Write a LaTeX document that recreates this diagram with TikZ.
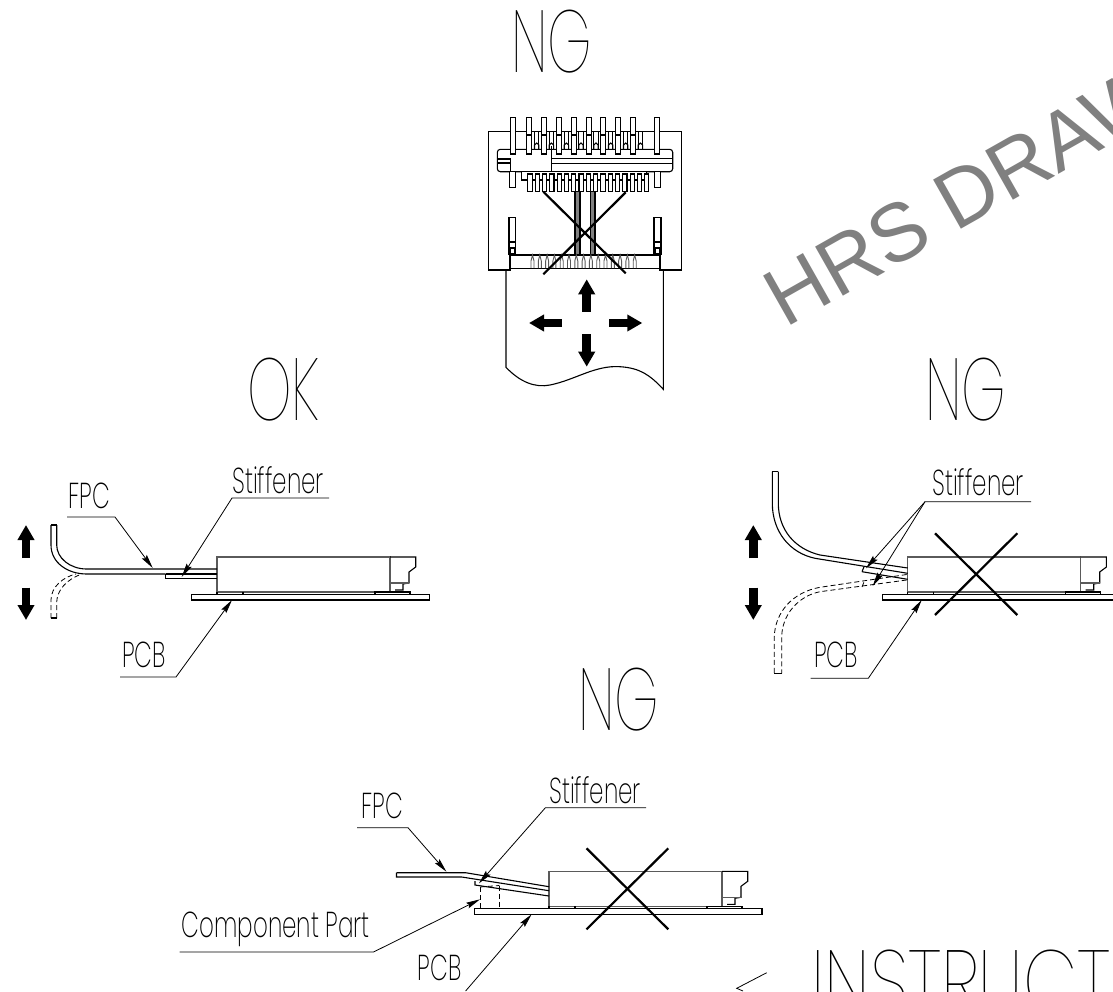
\documentclass[tikz,border=0pt]{standalone}
\usepackage{fontspec}
\setmainfont{Liberation Sans}
\newfontfamily\draftfont{Poppins Thin}
\newfontfamily\draftfontB{Poppins ExtraLight}
\definecolor{waterA}{RGB}{128, 128, 128}
\definecolor{bodyA}{RGB}{90, 90, 90}
\usetikzlibrary{arrows.meta}

\tikzset{
	bigtext/.style={font=\draftfont\fontsize{88}{0}\selectfont, anchor=base west, inner sep=0, xscale=0.64, transform shape},
	widetext/.style={font=\draftfont\fontsize{88}{0}\selectfont, anchor=base west, inner sep=0, xscale=0.80, transform shape},
	smalltext/.style={font=\draftfontB\fontsize{36}{0}\selectfont, anchor=base west, inner sep=0, xscale=0.64, transform shape},
	leader/.style={line width=0.8pt, -{Stealth[length=14pt,width=6pt,inset=2pt]}},
	fatarrow/.style={line width=8.5pt, -{Triangle[length=15pt,width=16pt]}},
	crossline/.style={line width=2.2pt},
	ghost/.style={line width=0.8pt, dash pattern=on 5pt off 3pt},
	sideview/.pic={
		\draw[bodyA] (0,35) -- (0,0) -- (173,0) -- (173,35) -- cycle;
		\draw (173,0) -- (198.7,0) -- (198.7,10) -- (192,15) -- (192,26) -- (186,27) -- (186,33) -- (178,33);
		\draw[bodyA] (173,26) -- (192,26);
		\draw (0,35) -- (0,37.6) -- (26,37.6) -- (26,35);
		\draw (158,37.6) -- (158,35) -- (193,35) -- (193,37.6) -- cycle;
		\draw (26,37.6) -- (158,37.6);
	}
}

\begin{document}
\begin{tikzpicture}[x=1pt, y=-1pt, line width=1.1pt]
\useasboundingbox (0,0) rectangle (1113,991);

%%% WATERMARK
\node[font=\fontsize{82}{0}\selectfont, text=waterA, rotate=29.5, anchor=base west, inner sep=0] (water) at (785,329) {HRS DRAW};

%%% TITLES
\node[bigtext] (titleTop) at (511,72) {NG};
\node[bigtext] (titleOk) at (247,420) {OK};
\node[bigtext] (titleRight) at (925,420) {NG};
\node[bigtext] (titleBottom) at (578,730) {NG};
\node[widetext] (titleInstruct) at (811,1012) {INSTRUCT};

%%% TOP VIEW

\draw (490,131.7) -- (681.7,131.7) -- (681.7,270) -- (660,270) -- (660,255) -- (510,255) -- (510,270) -- (488.3,270) -- (488.3,131.7) -- cycle;
\draw (510,268.3) -- (660,268.3);
\draw (506,270) -- (506,367.3) .. controls (520,382) and (535,388) .. (550,385) .. controls (575,380) and (595,365) .. (620,366.7) .. controls (640,368) and (650,375) .. (663.3,389.3) -- (663.3,270);

% housing
\draw[fill=white, rounded corners=3pt] (497.3,149.3) rectangle (672.7,171.7);
\draw (551.7,158.3) -- (672.7,158.3);
\draw (551.7,163.3) -- (672.7,163.3);
\draw (551.7,146) -- (551.7,171.7);
\draw (497.3,159) -- (510.7,159) -- (510.7,171.7);
\draw (497.3,163) -- (510.7,163);

% upper pins
\foreach \x in {512.7,529.3,544,559,573.7,588.7,603.3,618.3,633,657.3}
	\draw[fill=white] (\x-2.4,154) -- (\x-2.4,117.3) -- (\x+2.4,117.3) -- (\x+2.4,154) -- cycle;
\foreach \x in {529.3,544,559,573.7,588.7,603.3,618.3,633}
	\draw (\x-2.4,135) -- (\x+2.4,135);
\foreach \x in {536.7,551.4,566.4,581,596,610.7,625.7,640.4}
{
	\draw (\x-2.2,149.3) -- (\x-2.2,132);
	\draw (\x+2.2,149.3) -- (\x+2.2,132);
	\draw (\x-2.2,149.3) -- (\x-2.2,145) -- (\x,143) -- (\x+2.2,145) -- (\x+2.2,149.3);
}

% lower pins
\draw[fill=white] (521.7,171.7) -- (521.7,180) -- (646.7,180) -- (646.7,171.7);
\foreach \i in {0,...,16}
{
	\draw[fill=white] (527.9+7.3*\i,174) rectangle (532.1+7.3*\i,191.7);
}
\draw[fill=white] (509.3,171.7) rectangle (515.7,187.7);
\draw[fill=white] (654.4,171.7) rectangle (660.8,187.7);

% locks
\draw (509,255) -- (509,217.3) -- (515.7,217.3) -- (515.7,255);
\draw (654,255) -- (654,217.3) -- (661,217.3) -- (661,255);
\draw (509,242) -- (515.7,242);
\draw (654,242) -- (661,242);
\draw (510,248) rectangle (515,254);
\draw (655,248) rectangle (660,254);

% wires
\draw[fill=waterA] (575,191.7) rectangle (580,255);
\draw[fill=waterA] (590.5,191.7) rectangle (595,255);

% contacts
\foreach \i in {0,...,14}
{
	\draw[bodyA, line width=0.9pt] (531+7.3*\i,268) -- (531+7.3*\i,261) -- (532.5+7.3*\i,255) -- (534+7.3*\i,261) -- (534+7.3*\i,268);
}

\draw[crossline] (543.3,191.7) -- (625.7,273.3);
\draw[crossline] (625.7,192.3) -- (543.3,274.3);

\coordinate (topUpA) at (586.7,311.7);
\coordinate (topUpB) at (586.7,279.3);
\coordinate (topLeftA) at (561.7,323);
\coordinate (topLeftB) at (529,323);
\coordinate (topRightA) at (609.3,323);
\coordinate (topRightB) at (642.3,323);
\coordinate (topDownA) at (586.7,334.3);
\coordinate (topDownB) at (586.7,366.7);
\draw[fatarrow] (topUpA) -- (topUpB);
\draw[fatarrow] (topLeftA) -- (topLeftB);
\draw[fatarrow] (topRightA) -- (topRightB);
\draw[fatarrow] (topDownA) -- (topDownB);

%%% OK VIEW

\pic at (217,557) {sideview};
\draw (191.7,594.3) rectangle (429.3,600);

\draw (51,525) -- (56.7,525);
\draw (56.7,525) -- (56.7,545) .. controls (56.7,558) and (70,569) .. (86.7,569) -- (217,569);
\draw (51,525) -- (51,545) .. controls (51,563) and (68,574) .. (86.7,574) -- (165.7,574);
\draw (165.7,574) -- (217,574);
\draw (165.7,574) -- (165.7,578.3) -- (217,578.3);

\draw[ghost] (51,618) -- (51,600) .. controls (51,587) and (63,577) .. (76,574);
\draw[ghost] (56.7,618) -- (56.7,602) .. controls (57,590) and (67,579) .. (82,574);
\draw (51,618) -- (56.7,618);

\coordinate (okUpA) at (26,558);
\coordinate (okUpB) at (26,525);
\coordinate (okDownA) at (26,587.7);
\coordinate (okDownB) at (26,620);
\draw[fatarrow] (okUpA) -- (okUpB);
\draw[fatarrow] (okDownA) -- (okDownB);

\node[smalltext] (fpcA) at (68,508) {FPC};
\coordinate (fpcAa) at (67,517);
\coordinate (fpcAb) at (115,517);
\coordinate (fpcAc) at (152.7,568);
\draw[leader] (fpcAa) -- (fpcAb) -- (fpcAc);

\node[smalltext] (stiffA) at (232,493) {Stiffener};
\coordinate (stiffAa) at (329,498);
\coordinate (stiffAb) at (232,498);
\coordinate (stiffAc) at (181.7,577);
\draw[leader] (stiffAa) -- (stiffAb) -- (stiffAc);

\node[smalltext] (pcbA) at (122,667) {PCB};
\coordinate (pcbAa) at (120,677);
\coordinate (pcbAb) at (176,677);
\coordinate (pcbAc) at (232,600);
\draw[leader] (pcbAa) -- (pcbAb) -- (pcbAc);

%%% NG VIEW RIGHT

\pic at (907.7,557) {sideview};
\draw (1120,594.3) -- (882.7,594.3) -- (882.7,600) -- (1120,600);

\draw (772.3,471.7) -- (778.3,471.7);
\draw (778.3,471.7) -- (778.3,503) .. controls (778.3,530) and (795,549) .. (820,555) -- (907.7,568);
\draw (772.3,471.7) -- (772.3,503) .. controls (772.3,532) and (790,553) .. (815,558.3) -- (907.7,573.3);
\draw (862,571.7) -- (907.7,579.3);
\draw (862,571.7) -- (864,566.8);

\draw[ghost] (906.7,574.5) -- (820,587.3) .. controls (793,592) and (775,612) .. (774.3,636.7) -- (774.3,673.3);
\draw[ghost] (906.7,580) -- (820,591.7) .. controls (798,596) and (782,615) .. (781.7,636.7) -- (781.7,673.3);
\draw[ghost] (862,587) -- (864,582);
\draw (774.3,673.3) -- (781.7,673.3);

\draw[crossline] (935,533.3) -- (1017.3,615);
\draw[crossline] (1017.3,533.3) -- (935,615);

\coordinate (ngUpA) at (753.3,558.3);
\coordinate (ngUpB) at (753.3,525);
\coordinate (ngDownA) at (753.3,587.7);
\coordinate (ngDownB) at (753.3,620);
\draw[fatarrow] (ngUpA) -- (ngUpB);
\draw[fatarrow] (ngDownA) -- (ngDownB);

\node[smalltext] (stiffB) at (932,495) {Stiffener};
\coordinate (stiffBa) at (1031,501.7);
\coordinate (stiffBb) at (925,501.7);
\coordinate (stiffBc) at (866,568.3);
\coordinate (stiffBd) at (872.7,586);
\draw[leader] (stiffBa) -- (stiffBb) -- (stiffBc);
\draw[leader] (stiffBb) -- (stiffBd);

\node[smalltext] (pcbB) at (814,667) {PCB};
\coordinate (pcbBa) at (810.7,678.3);
\coordinate (pcbBb) at (868.3,678.3);
\coordinate (pcbBc) at (921.7,600);
\draw[leader] (pcbBa) -- (pcbBb) -- (pcbBc);

%%% NG VIEW BOTTOM

\pic at (549,871.3) {sideview};
\draw (474.4,908.6) rectangle (762,914.3);

\draw (396.5,872.7) -- (465.6,872.7) -- (549,886.7);
\draw (396.5,872.7) -- (396.5,877) -- (461.7,877) -- (549,890.7);
\draw (475,881) -- (475,885) -- (549,896);

\draw[ghost] (480,887) -- (499.4,885.5);
\draw[ghost] (480,887) -- (480,908.6);
\draw[ghost] (499.4,885.5) -- (499.4,908.6);

\draw[crossline] (586.5,848.3) -- (668.3,929.3);
\draw[crossline] (668.3,848.3) -- (586.5,929.3);

\node[smalltext] (fpcC) at (361,818) {FPC};
\coordinate (fpcCa) at (357,827.7);
\coordinate (fpcCb) at (408,827.7);
\coordinate (fpcCc) at (446.4,871.7);
\draw[leader] (fpcCa) -- (fpcCb) -- (fpcCc);

\node[smalltext] (stiffC) at (549,803) {Stiffener};
\coordinate (stiffCa) at (646,807.7);
\coordinate (stiffCb) at (545.4,807.7);
\coordinate (stiffCc) at (479,883.3);
\draw[leader] (stiffCa) -- (stiffCb) -- (stiffCc);

\node[smalltext] (compC) at (181.5,937) {Component Part};
\coordinate (compCa) at (179.6,952);
\coordinate (compCb) at (373.5,952);
\coordinate (compCc) at (480,899.3);
\draw[leader] (compCa) -- (compCb) -- (compCc);

\node[smalltext] (pcbC) at (417.6,980) {PCB};
\coordinate (pcbCa) at (465.6,991);
\coordinate (pcbCb) at (531.6,914.3);
\draw[leader] (pcbCa) -- (pcbCb);

%%% INSTRUCT ARROW

\coordinate (instructA) at (766.7,972.7);
\coordinate (instructB) at (736.7,988.3);
\coordinate (instructC) at (743,991);
\draw[line width=0.8pt] (instructA) -- (instructB) -- (instructC);

\end{tikzpicture}
\end{document}
